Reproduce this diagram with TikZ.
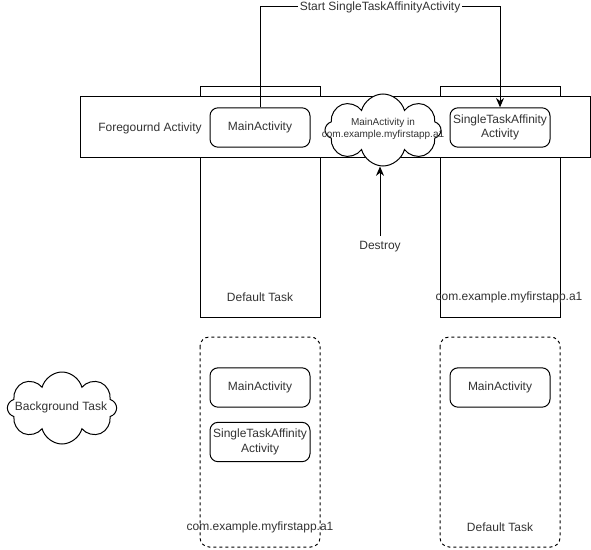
\documentclass[tikz,border=0pt]{standalone}
\usepackage{fontspec}
\setmainfont{Liberation Sans}
\usetikzlibrary{shapes.symbols,arrows.meta}
\begin{document}
\begin{tikzpicture}[x=0.75pt,y=-0.75pt,
  every node/.style={font=\fontsize{9}{11}\selectfont, text=black!80},
  col/.style={draw, line width=0.75pt, fill=white},
  act/.style={draw, line width=0.75pt, rounded corners=6pt, fill=white, minimum width=75pt, minimum height=29.5pt, inner sep=1pt, align=center},
  dbox/.style={draw, line width=0.75pt, dash pattern=on 2.25pt off 2.25pt, rounded corners=7pt},
  cld/.style={draw, cloud, cloud puffs=8, cloud ignores aspect, line width=0.75pt, fill=white, inner sep=0pt},
  lbl/.style={inner sep=1pt, align=center},
  arr/.style={line width=0.75pt, -{Stealth[length=7pt,width=6pt]}}
]
\useasboundingbox (0,0) rectangle (591,549);
% columns
\draw[col] (200,87) rectangle (320,317);
\draw[col] (440,87) rectangle (560,317);
\node[lbl] (dt) at (260,297) {Default Task};
\node[lbl] (ca) at (509,297) {com.example.myfirstapp.a1};
% foreground band
\draw[col] (80,97) rectangle (590,157);
\node[lbl] (fg) at (150,128) {Foregournd Activity};
\node[act] (ma) at (260,127.5) {MainActivity};
\node[act] (sta) at (500,127.5) {SingleTaskAffinity\\Activity};
\node[cld, minimum width=87pt, minimum height=54pt] (cl) at (383,130) {};
\node[lbl, font=\fontsize{7.5}{9}\selectfont] (clt) at (383,129) {MainActivity in\\com.example.myfirstapp.a1};
% start arrow
\coordinate (top) at (380,7);
\draw[arr] (ma.north) |- (top) -| (sta.north);
\node[fill=white, inner sep=1pt] (st) at (380,7) {Start SingleTaskAffinityActivity};
% destroy
\node[lbl] (de) at (380,247) {Destroy};
\coordinate (ds) at (380,236);
\draw[arr] (ds) -- (ds |- cl.south);
% bottom
\draw[dbox] (200,337) rectangle (320,547);
\draw[dbox] (440,337) rectangle (560,547);
\node[act] (ma2) at (260,387.5) {MainActivity};
\node[act] (sta2) at (260,442) {SingleTaskAffinity\\Activity};
\node[lbl] (ca2) at (260,527) {com.example.myfirstapp.a1};
\node[act] (ma3) at (500,387.5) {MainActivity};
\node[lbl] (dt2) at (500,527) {Default Task};
\node[cld, minimum width=82pt, minimum height=54pt] (bg) at (62,408) {};
\node[lbl] (bgt) at (61,407) {Background Task};
\end{tikzpicture}
\end{document}
